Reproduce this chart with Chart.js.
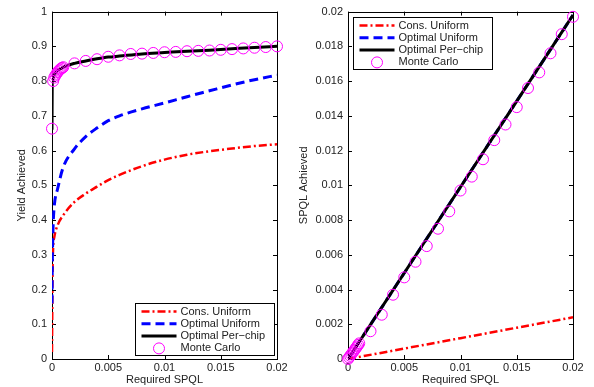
<!DOCTYPE html>
<html>
<head>
<meta charset="utf-8">
<script src="https://cdn.jsdelivr.net/npm/chart.js@4.4.0/dist/chart.umd.min.js"></script>
<style>
body { margin:0; background:#fff; width:594px; height:387px; position:relative; overflow:hidden; }
#left { position:absolute; left:0; top:0; }
#right { position:absolute; left:290px; top:0; }
</style>
</head>
<body>
<canvas id="left" width="290" height="387"></canvas>
<canvas id="right" width="304" height="387"></canvas>
<script>
var seriesNames = ['Cons. Uniform', 'Optimal Uniform', 'Optimal Per\u2212chip', 'Monte Carlo'];

// left panel: yield vs required SPQL
var lineX = [0, 0.00002, 0.00005, 0.0001, 0.0002, 0.0005, 0.001, 0.002, 0.003, 0.004, 0.005, 0.006, 0.008, 0.01, 0.012, 0.014, 0.016, 0.018, 0.02];
var yieldCons = [0.02, 0.12, 0.25, 0.32, 0.35, 0.385, 0.414, 0.452, 0.476, 0.496, 0.515, 0.53, 0.555, 0.574, 0.588, 0.598, 0.606, 0.613, 0.618];
var yieldUnif = [0.16, 0.26, 0.32, 0.385, 0.44, 0.49, 0.552, 0.605, 0.64, 0.665, 0.686, 0.70, 0.72, 0.737, 0.755, 0.772, 0.789, 0.804, 0.817];
var yieldChip = [0.66, 0.79, 0.80, 0.81, 0.818, 0.83, 0.84, 0.851, 0.858, 0.864, 0.869, 0.872, 0.878, 0.882, 0.886, 0.889, 0.893, 0.897, 0.90];

var mcX = [0, 0.0001, 0.0002, 0.0003, 0.0004, 0.0005, 0.0006, 0.0007, 0.0008, 0.0009, 0.001,
  0.002, 0.003, 0.004, 0.005, 0.006, 0.007, 0.008, 0.009, 0.01, 0.011, 0.012, 0.013, 0.014, 0.015, 0.016, 0.017, 0.018, 0.019, 0.02];
var mcYield = [0.663, 0.80, 0.81, 0.816, 0.821, 0.826, 0.83, 0.833, 0.836, 0.838, 0.84,
  0.851, 0.858, 0.863, 0.870, 0.874, 0.878, 0.879, 0.881, 0.883, 0.884, 0.886, 0.887, 0.888, 0.890, 0.892, 0.894, 0.896, 0.898, 0.900];

// right panel: SPQL achieved vs required SPQL
var spqlX = [0, 0.005, 0.01, 0.015, 0.02];
var spqlCons = [0, 0.0006, 0.0012, 0.0018, 0.0024];
var spqlUnif = [0, 0.00495, 0.0099, 0.01485, 0.0198];
var spqlChip = [0, 0.00495, 0.0099, 0.01485, 0.0198];
var mcSpql = [0, 0.00009, 0.00018, 0.00027, 0.00036, 0.00045, 0.00054, 0.00063, 0.00072, 0.00081, 0.0009,
  0.0016, 0.00255, 0.0037, 0.0047, 0.0056, 0.0065, 0.0075, 0.0085, 0.0097, 0.0105, 0.0115, 0.0126, 0.0135, 0.0145, 0.0156, 0.0165, 0.0176, 0.0187, 0.0197];

Chart.defaults.font.family = '"Liberation Sans", Arial, sans-serif';
Chart.defaults.font.size = 11;
Chart.defaults.color = '#222';

function pts(xs, ys) { return xs.map(function(v, i){ return {x: v, y: ys[i]}; }); }
function fmt(v) { return String(+Number(v).toFixed(6)); }

function makeSets(xl, cons, unif, chip, mc, smooth) {
  var mode = smooth ? 'monotone' : 'default';
  return [
    { label: seriesNames[0], data: pts(xl, cons), borderColor: '#ff0000', borderWidth: 2.5, borderDash: [8, 3, 2, 3],
      pointRadius: 0, showLine: true, cubicInterpolationMode: mode, order: 3 },
    { label: seriesNames[1], data: pts(xl, unif), borderColor: '#0000ff', borderWidth: 3, borderDash: [9, 5],
      pointRadius: 0, showLine: true, cubicInterpolationMode: mode, order: 2 },
    { label: seriesNames[2], data: pts(xl, chip), borderColor: '#000000', borderWidth: 3,
      pointRadius: 0, showLine: true, cubicInterpolationMode: mode, order: 1 },
    { label: seriesNames[3], data: pts(mcX, mc), borderColor: '#ff00ff', backgroundColor: 'rgba(0,0,0,0)',
      pointRadius: 5.5, pointBorderWidth: 1, showLine: false, clip: false, order: 0 }
  ];
}

function makeScales(yMax, yStep, yTitle, yWidth, titlePad) {
  return {
    x: { type: 'linear', min: 0, max: 0.02,
      ticks: { stepSize: 0.005, padding: 2, maxRotation: 0, callback: fmt },
      grid: { display: false, drawTicks: false }, border: { display: false },
      title: { display: true, text: 'Required SPQL', padding: { top: 0, bottom: 0 } },
      afterFit: function(s){ s.height = 28; } },
    y: { type: 'linear', min: 0, max: yMax,
      ticks: { stepSize: yStep, padding: 5, callback: fmt },
      grid: { display: false, drawTicks: false }, border: { display: false },
      title: { display: true, text: yTitle, font: { size: 11 }, padding: { top: titlePad, bottom: 0 } },
      afterFit: function(s){ s.width = yWidth; } }
  };
}

// box around the plot with inward tick marks, MATLAB style
var frame = {
  id: 'frame',
  beforeDatasetsDraw: function(chart) {
    var ctx = chart.ctx, a = chart.chartArea, sx = chart.scales.x, sy = chart.scales.y;
    ctx.save();
    ctx.strokeStyle = '#000';
    ctx.lineWidth = 1;
    ctx.strokeRect(Math.round(a.left) + 0.5, Math.round(a.top) + 0.5, Math.round(a.right - a.left), Math.round(a.bottom - a.top));
    ctx.beginPath();
    sx.ticks.forEach(function(t){
      var p = Math.round(sx.getPixelForValue(t.value)) + 0.5;
      ctx.moveTo(p, a.bottom); ctx.lineTo(p, a.bottom - 4);
      ctx.moveTo(p, a.top); ctx.lineTo(p, a.top + 4);
    });
    sy.ticks.forEach(function(t){
      var p = Math.round(sy.getPixelForValue(t.value)) + 0.5;
      ctx.moveTo(a.left, p); ctx.lineTo(a.left + 4, p);
      ctx.moveTo(a.right, p); ctx.lineTo(a.right - 4, p);
    });
    ctx.stroke();
    ctx.restore();
  }
};

// boxed legend inside the plot area
var boxLegend = {
  id: 'boxLegend',
  afterDraw: function(chart, args, opts) {
    var ctx = chart.ctx, a = chart.chartArea;
    var w = 139, h = 52;
    var left = opts.corner === 'br' ? a.right - 3 - w : a.left + 5;
    var top = opts.corner === 'br' ? a.bottom - 4 - h : a.top + 5.5;
    left = Math.round(left) + 0.5; top = Math.round(top) + 0.5;
    ctx.save();
    ctx.fillStyle = '#fff';
    ctx.fillRect(left, top, w, h);
    ctx.strokeStyle = '#000';
    ctx.lineWidth = 1;
    ctx.strokeRect(left, top, w, h);
    ctx.font = '11px "Liberation Sans", Arial, sans-serif';
    ctx.textBaseline = 'middle';
    chart.data.datasets.forEach(function(ds, i){
      var yy = top + 8 + i * 12.3;
      var x0 = left + 6, x1 = left + 41;
      if (ds.showLine === false) {
        ctx.setLineDash([]);
        ctx.strokeStyle = ds.borderColor;
        ctx.lineWidth = 1;
        ctx.beginPath();
        ctx.arc((x0 + x1) / 2, yy, 5.5, 0, Math.PI * 2);
        ctx.stroke();
      } else {
        ctx.setLineDash(ds.borderDash || []);
        ctx.strokeStyle = ds.borderColor;
        ctx.lineWidth = ds.borderWidth;
        ctx.beginPath();
        ctx.moveTo(x0, yy); ctx.lineTo(x1, yy);
        ctx.stroke();
      }
      ctx.setLineDash([]);
      ctx.fillStyle = '#222';
      ctx.fillText(ds.label, left + 45, yy);
    });
    ctx.restore();
  }
};

function build(id, sets, scales, corner, padRight) {
  return new Chart(document.getElementById(id), {
    type: 'scatter',
    data: { datasets: sets },
    options: {
      responsive: false,
      animation: false,
      layout: { padding: { top: 7, right: padRight, bottom: 0, left: 0 } },
      scales: scales,
      plugins: { legend: { display: false }, tooltip: { enabled: false }, boxLegend: { corner: corner } }
    },
    plugins: [frame, boxLegend]
  });
}

window.onload = function() {
  build('left', makeSets(lineX, yieldCons, yieldUnif, yieldChip, mcYield, true),
    makeScales(1, 0.1, 'Yield Achieved', 52, 15), 'br', 13);
  build('right', makeSets(spqlX, spqlCons, spqlUnif, spqlChip, mcSpql, false),
    makeScales(0.02, 0.002, 'SPQL Achieved', 58, 7), 'tl', 21);
};
</script>
</body>
</html>
